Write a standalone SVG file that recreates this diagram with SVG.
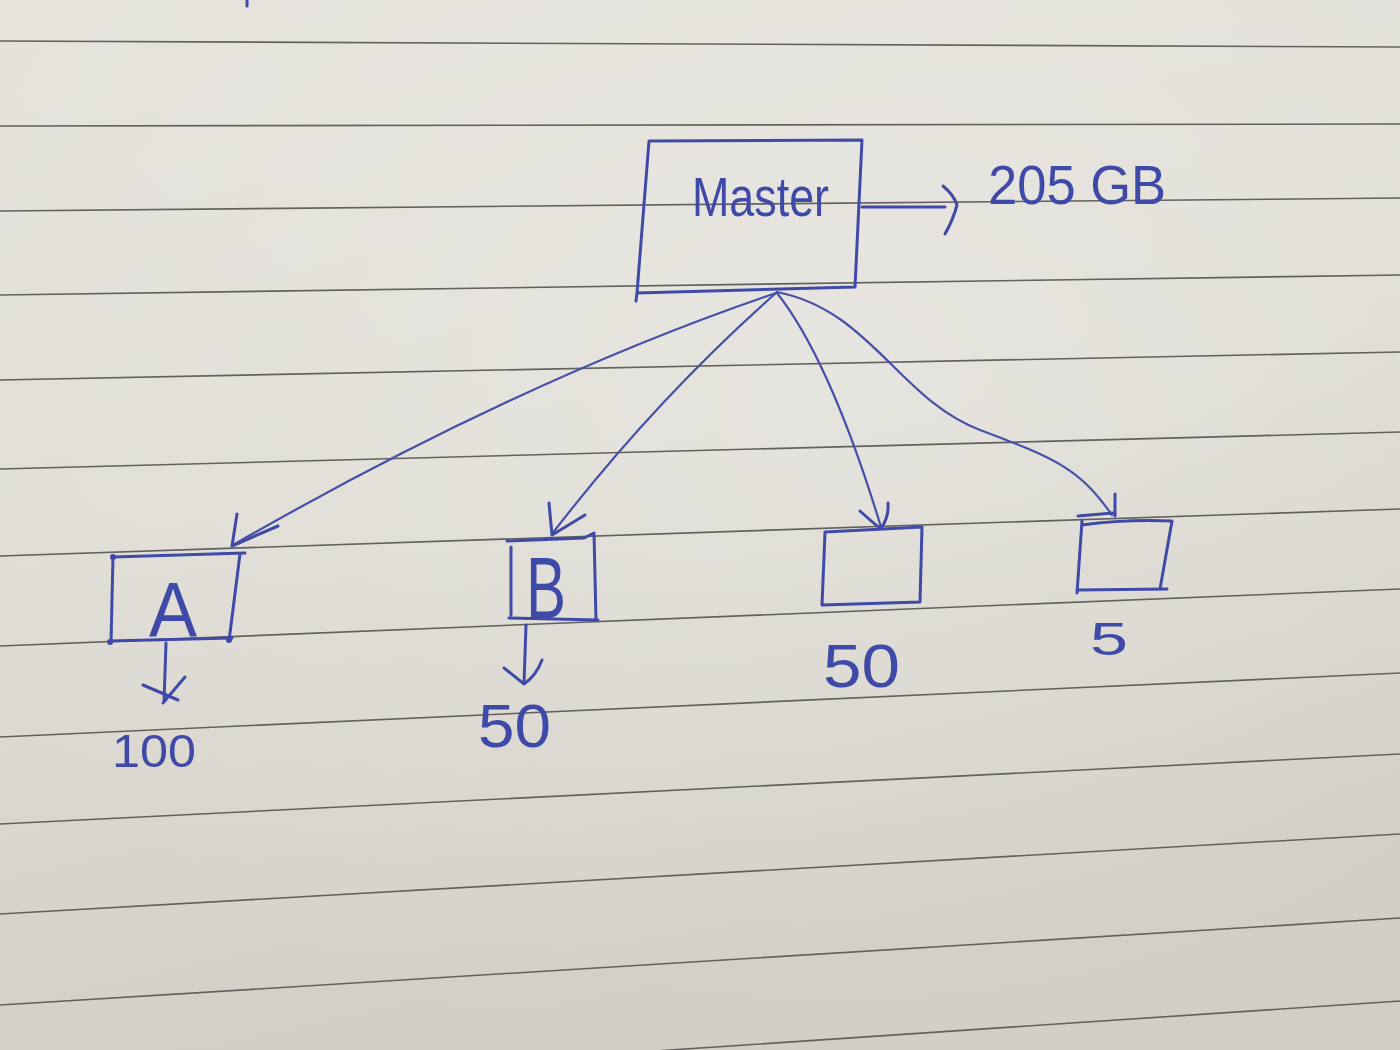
<svg xmlns="http://www.w3.org/2000/svg" width="1400" height="1050" viewBox="0 0 1400 1050">
  <defs>
    <linearGradient id="paper" x1="0" y1="0" x2="0.3" y2="1">
      <stop offset="0" stop-color="#e6e3dd"/>
      <stop offset="0.5" stop-color="#e0ddd6"/>
      <stop offset="1" stop-color="#d2cec6"/>
    </linearGradient>
    <radialGradient id="glow" cx="0.6" cy="0.35" r="0.7">
      <stop offset="0" stop-color="#ffffff" stop-opacity="0.22"/>
      <stop offset="1" stop-color="#ffffff" stop-opacity="0"/>
    </radialGradient>
    <style>
      .rule { stroke: #62615d; stroke-width: 1.6; fill: none; }
      .ink { stroke: #3f4aa8; fill: none; stroke-width: 3; stroke-linecap: round; stroke-linejoin: round; }
      .conn { stroke: #4650a8; fill: none; stroke-width: 2.2; stroke-linecap: round; stroke-linejoin: round; }
      .txt { fill: #3f4aa8; font-family: 'Liberation Sans', Arial, sans-serif; }
      .dot { fill: #3f4aa8; }
    </style>
  </defs>

  <rect x="0" y="0" width="1400" height="1050" fill="url(#paper)"/>
  <rect x="0" y="0" width="1400" height="1050" fill="url(#glow)"/>

  <g id="rules">
    <line class="rule" x1="0" y1="41" x2="1400" y2="47"/>
    <line class="rule" x1="0" y1="126" x2="1400" y2="124"/>
    <line class="rule" x1="0" y1="211" x2="1400" y2="198"/>
    <line class="rule" x1="0" y1="295" x2="1400" y2="275"/>
    <line class="rule" x1="0" y1="380" x2="1400" y2="352"/>
    <line class="rule" x1="0" y1="469" x2="1400" y2="432"/>
    <line class="rule" x1="0" y1="556" x2="1400" y2="509"/>
    <line class="rule" x1="0" y1="646" x2="1400" y2="589"/>
    <line class="rule" x1="0" y1="737" x2="1400" y2="673"/>
    <line class="rule" x1="0" y1="824" x2="1400" y2="754"/>
    <line class="rule" x1="0" y1="914" x2="1400" y2="834"/>
    <line class="rule" x1="0" y1="1005" x2="1400" y2="918"/>
    <line class="rule" x1="0" y1="1095" x2="1400" y2="1001"/>
  </g>

  <path class="ink" d="M247,0 L247,6"/>

  <g id="master">
    <path class="ink" d="M649,141 L862,140 L855,287 L637,293 Z M637,293 L636,301"/>
    <text class="txt" x="692" y="216" font-size="56" textLength="137" lengthAdjust="spacingAndGlyphs">Master</text>
  </g>

  <g id="size-label">
    <text class="txt" x="988" y="204" font-size="56" textLength="178" lengthAdjust="spacingAndGlyphs">205 GB</text>
  </g>

  <g id="node-a">
    <path class="ink" d="M113,557 L245,553 M240,554 L229,641 M110,641 L232,638 M113,556 L111,643"/>
    <circle class="dot" cx="113" cy="557" r="3"/>
    <circle class="dot" cx="110" cy="642" r="3"/>
    <circle class="dot" cx="229" cy="640" r="3"/>
    <text class="txt" x="149" y="637" font-size="78" textLength="48" lengthAdjust="spacingAndGlyphs">A</text>
  </g>

  <g id="node-a-value">
    <text class="txt" x="112" y="767" font-size="46" textLength="84" lengthAdjust="spacingAndGlyphs">100</text>
  </g>

  <g id="node-b">
    <path class="ink" d="M507,541 L584,538 L594,533 L596,620 M509,618 L598,620 M511,547 L511,615"/>
    <text class="txt" x="526" y="618" font-size="88" textLength="40" lengthAdjust="spacingAndGlyphs">B</text>
  </g>

  <g id="node-b-value">
    <text class="txt" x="478" y="747" font-size="62" textLength="73" lengthAdjust="spacingAndGlyphs">50</text>
  </g>

  <g id="node-c">
    <path class="ink" d="M825,532 L922,527 L920,602 L822,605 Z"/>
  </g>

  <g id="node-c-value">
    <text class="txt" x="823" y="687" font-size="62" textLength="77" lengthAdjust="spacingAndGlyphs">50</text>
  </g>

  <g id="node-d">
    <path class="ink" d="M1082,525 Q1125,519 1172,521 L1160,589 M1077,590 L1167,589 M1082,521 L1077,593"/>
  </g>

  <g id="node-d-value">
    <text class="txt" x="1090" y="655" font-size="46" textLength="38" lengthAdjust="spacingAndGlyphs">5</text>
  </g>

  <g id="connectors">
    <path class="ink" d="M862,207 L945,207 M943,186 Q954,195 957,205 Q953,220 945,234"/>
    <path class="conn" d="M776,293 Q520,380 233,545"/>
    <path class="ink" d="M237,514 L232,546 L278,526"/>
    <path class="conn" d="M776,293 Q655,400 552,534"/>
    <path class="ink" d="M549,503 L552,535 L585,515"/>
    <path class="conn" d="M777,293 Q830,360 881,527"/>
    <path class="ink" d="M860,511 Q872,522 880,528 M888,503 Q889,518 881,528"/>
    <path class="conn" d="M777,292 C870,310 900,400 980,430 S1080,470 1112,515"/>
    <path class="ink" d="M1115,494 L1115,516 M1078,516 L1113,513"/>
    <path class="ink" d="M166,643 L164,702 M143,685 L178,700 M185,677 L163,703"/>
    <path class="ink" d="M526,625 L524,684 M504,668 L524,684 Q536,676 542,660"/>
  </g>
</svg>
